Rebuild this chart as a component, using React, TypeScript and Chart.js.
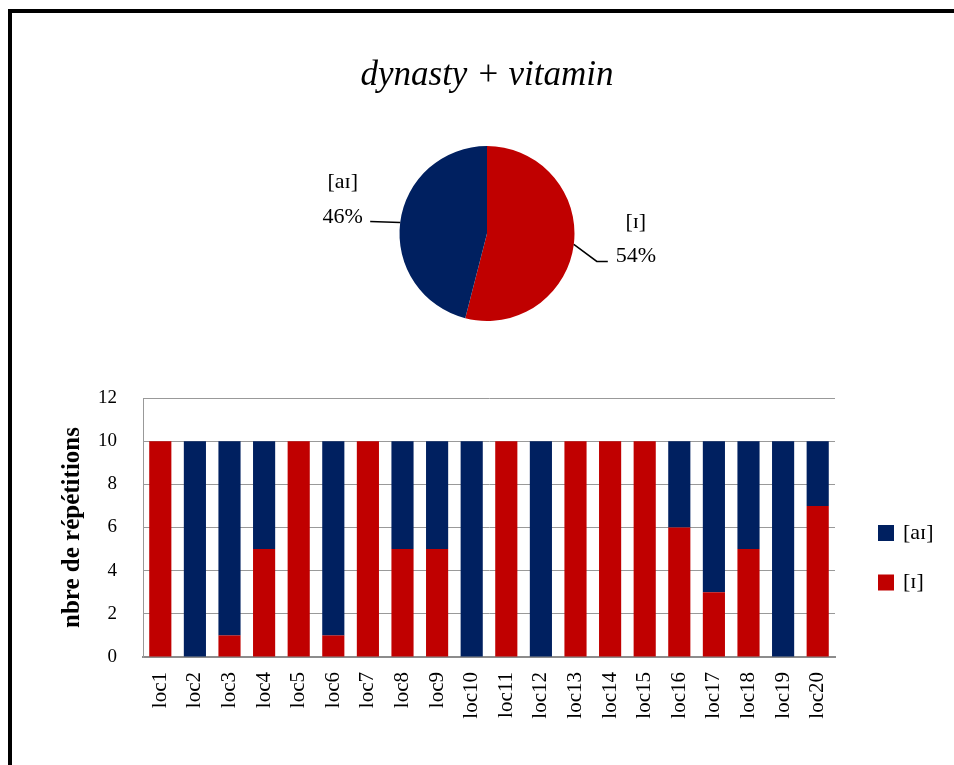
import React, { useEffect, useRef } from 'react';
import { Chart, registerables } from 'chart.js';

Chart.register(...registerables);

// ---------- data ----------
const TITLE = 'dynasty + vitamin';
const PIE_LABELS = ['[ɪ]', '[aɪ]'];
const PIE_PERCENT = [54, 46];
const LOCATIONS = [
  'loc1', 'loc2', 'loc3', 'loc4', 'loc5', 'loc6', 'loc7', 'loc8', 'loc9', 'loc10',
  'loc11', 'loc12', 'loc13', 'loc14', 'loc15', 'loc16', 'loc17', 'loc18', 'loc19', 'loc20',
];
const I_LABEL = '[ɪ]';
const AI_LABEL = '[aɪ]';
const I_VALUES = [10, 0, 1, 5, 10, 1, 10, 5, 5, 0, 10, 0, 10, 10, 10, 6, 3, 5, 0, 7];
const AI_VALUES = [0, 10, 9, 5, 0, 9, 0, 5, 5, 10, 0, 10, 0, 0, 0, 4, 7, 5, 10, 3];
const Y_MIN = 0;
const Y_MAX = 12;
const Y_STEP = 2;
const Y_TITLE = 'nbre de répétitions';

// ---------- style ----------
const RED = '#C00000';
const BLUE = '#002060';
const FONT = '"Liberation Serif", "DejaVu Serif", serif';
Chart.defaults.font.family = FONT;

// leader line geometry per pie slice (offsets relative to slice edge midpoint)
const LEADERS = [
  { elbow: [23, 17], end: [11, 0], text: [28, -5], gap: 34 },
  { elbow: [0, 0], end: [-30, -1], text: [-27.5, -4], gap: 35 },
];

const pieLabelPlugin = {
  id: 'pieLabels',
  afterDatasetsDraw(chart: any) {
    const ctx = chart.ctx;
    const meta = chart.getDatasetMeta(0);
    const labels = chart.data.labels;
    const values = chart.data.datasets[0].data;
    meta.data.forEach((arc: any, i: number) => {
      const p = arc.getProps(['x', 'y', 'startAngle', 'endAngle', 'outerRadius'], true);
      const mid = (p.startAngle + p.endAngle) / 2;
      const px = p.x + p.outerRadius * Math.cos(mid);
      const py = p.y + p.outerRadius * Math.sin(mid);
      const s = LEADERS[i];
      const ex = px + s.elbow[0];
      const ey = py + s.elbow[1];
      const fx = ex + s.end[0];
      const fy = ey + s.end[1];
      ctx.save();
      ctx.strokeStyle = '#000';
      ctx.lineWidth = 1.5;
      ctx.beginPath();
      ctx.moveTo(px, py);
      ctx.lineTo(ex, ey);
      ctx.lineTo(fx, fy);
      ctx.stroke();
      const tx = fx + s.text[0];
      const ty = fy + s.text[1];
      ctx.fillStyle = '#000';
      ctx.font = `22px ${FONT}`;
      ctx.textAlign = 'center';
      ctx.textBaseline = 'middle';
      ctx.fillText(`${values[i]}%`, tx, ty);
      ctx.fillText(labels[i], tx, ty - s.gap);
      ctx.restore();
    });
  },
};

const LEGEND_X = 878;
const LEGEND_Y = 163;
const LEGEND_STEP = 49.5;
const LEGEND_BOX = 16;

const barLegendPlugin = {
  id: 'barLegend',
  afterDraw(chart: any) {
    const ctx = chart.ctx;
    const items = [...chart.data.datasets].reverse();
    ctx.save();
    items.forEach((ds: any, k: number) => {
      const cy = LEGEND_Y + k * LEGEND_STEP;
      ctx.fillStyle = ds.backgroundColor;
      ctx.fillRect(LEGEND_X, cy - LEGEND_BOX / 2, LEGEND_BOX, LEGEND_BOX);
      ctx.fillStyle = '#000';
      ctx.font = `22px ${FONT}`;
      ctx.textAlign = 'left';
      ctx.textBaseline = 'middle';
      ctx.fillText(ds.label, LEGEND_X + LEGEND_BOX + 9, cy);
    });
    ctx.restore();
  },
};

export default function App() {
  const pieRef = useRef<HTMLCanvasElement>(null);
  const barRef = useRef<HTMLCanvasElement>(null);

  useEffect(() => {
    const pie = new Chart(pieRef.current!, {
      type: 'pie',
      data: {
        labels: PIE_LABELS,
        datasets: [
          {
            data: PIE_PERCENT,
            backgroundColor: [RED, BLUE],
            borderWidth: 0,
            hoverOffset: 0,
          },
        ],
      },
      options: {
        responsive: false,
        animation: false,
        events: [],
        layout: { padding: { left: 200, right: 180, top: 30, bottom: 39 } },
        plugins: {
          legend: { display: false },
          tooltip: { enabled: false },
          title: {
            display: true,
            text: TITLE,
            color: '#000',
            font: { size: 35, style: 'italic', weight: 'normal', family: FONT },
            padding: { top: 25, bottom: 49 },
          },
        },
      },
      plugins: [pieLabelPlugin],
    });

    const bar = new Chart(barRef.current!, {
      type: 'bar',
      data: {
        labels: LOCATIONS,
        datasets: [
          { label: I_LABEL, data: I_VALUES, backgroundColor: RED, barPercentage: 0.64, categoryPercentage: 1 },
          { label: AI_LABEL, data: AI_VALUES, backgroundColor: BLUE, barPercentage: 0.64, categoryPercentage: 1 },
        ],
      },
      options: {
        responsive: false,
        animation: false,
        events: [],
        layout: { padding: { left: 54, right: 119, top: 28, bottom: 0 } },
        plugins: { legend: { display: false }, tooltip: { enabled: false } },
        scales: {
          x: {
            stacked: true,
            grid: { display: false, drawTicks: false },
            border: { display: true, color: '#8c8c8c', width: 2 },
            ticks: {
              color: '#000',
              font: { size: 21, family: FONT },
              minRotation: 90,
              maxRotation: 90,
              padding: 15,
              autoSkip: false,
            },
            afterFit: (s: any) => {
              s.height = 108;
            },
          },
          y: {
            stacked: true,
            min: Y_MIN,
            max: Y_MAX,
            ticks: { stepSize: Y_STEP, color: '#000', font: { size: 19, family: FONT }, padding: 3 },
            grid: { color: '#999999', drawTicks: true, tickLength: 23, tickColor: 'rgba(0,0,0,0)' },
            border: { display: true, color: '#999999', width: 1 },
            title: {
              display: true,
              text: Y_TITLE,
              color: '#000',
              font: { size: 25, weight: 'bold', family: FONT },
              padding: { top: 4, bottom: 4 },
            },
            afterFit: (s: any) => {
              s.width = 89;
            },
          },
        },
      },
      plugins: [barLegendPlugin],
    });

    return () => {
      pie.destroy();
      bar.destroy();
    };
  }, []);

  return (
    <div style={{ position: 'absolute', left: 0, top: 0, width: 954, height: 765, overflow: 'hidden', background: '#fff' }}>
      <div
        style={{
          position: 'absolute',
          left: 8,
          top: 9,
          width: 946,
          height: 756,
          boxSizing: 'border-box',
          borderTop: '4px solid #000',
          borderLeft: '4px solid #000',
        }}
      />
      <canvas ref={pieRef} width={954} height={360} style={{ position: 'absolute', left: 0, top: 0, width: 954, height: 360 }} />
      <canvas ref={barRef} width={954} height={395} style={{ position: 'absolute', left: 0, top: 370, width: 954, height: 395 }} />
    </div>
  );
}
